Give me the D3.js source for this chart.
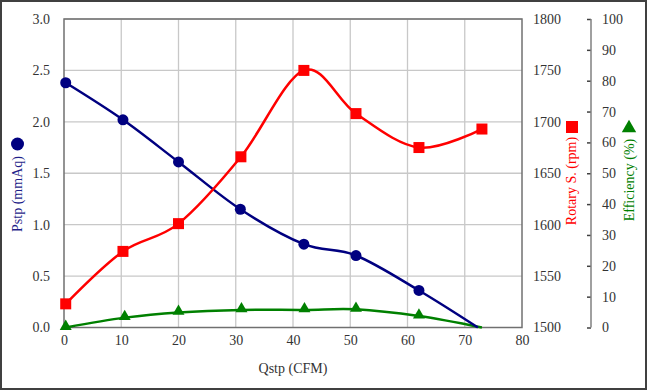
<!DOCTYPE html>
<html>
<head>
<meta charset="utf-8">
<script src="https://cdn.jsdelivr.net/npm/d3@7"></script>
<style>
    body { margin: 0; background: #fff; }
    svg text { font-family: "Times New Roman", "Liberation Serif", serif !important; }
</style>
</head>
<body>
<svg id="chart" width="647" height="390"></svg>
<script>
// flow (CFM) for each measured point
var pstpFlow = [0.3, 10.3, 20, 30.8, 41.9, 51, 62, 72.3];
var pstpValues = [2.38, 2.02, 1.61, 1.15, 0.81, 0.70, 0.36, 0];

var rpmFlow = [0.3, 10.3, 20, 30.9, 41.9, 51, 62, 73];
var rpmValues = [1523, 1574, 1601, 1666, 1750, 1708, 1675, 1693];

var effFlow = [0.3, 10.6, 20, 31, 42, 51, 62, 73];
var effValues = [0, 3.2, 4.9, 5.7, 5.7, 5.9, 3.7, 0];

var xTicks = [0, 10, 20, 30, 40, 50, 60, 70, 80];
var pstpTicks = [0, 0.5, 1.0, 1.5, 2.0, 2.5, 3.0];
var rpmTicks = [1500, 1550, 1600, 1650, 1700, 1750, 1800];
var effTicks = [0, 10, 20, 30, 40, 50, 60, 70, 80, 90, 100];

var svg = d3.select("#chart");
var plotL = 64, plotR = 522, plotT = 19, plotB = 327.5;
var effAxisX = 591;

var x = d3.scaleLinear().domain([0, 80]).range([plotL, plotR]);
var yP = d3.scaleLinear().domain([0, 3]).range([plotB, plotT]);
var yR = d3.scaleLinear().domain([1500, 1800]).range([plotB, plotT]);
var yE = d3.scaleLinear().domain([0, 100]).range([plotB, plotT]);

// outer frame
svg.append("rect")
    .attr("x", 1).attr("y", 1)
    .attr("width", 645).attr("height", 388)
    .attr("fill", "#fff")
    .attr("stroke", "#404040")
    .attr("stroke-width", 2);

// grid
svg.append("g").selectAll("line")
    .data(pstpTicks.slice(1))
    .enter().append("line")
    .attr("x1", plotL).attr("x2", plotR)
    .attr("y1", function(d){ return yP(d); })
    .attr("y2", function(d){ return yP(d); })
    .attr("stroke", "#c8c8c8").attr("stroke-width", 1.3);
svg.append("g").selectAll("line")
    .data(xTicks.slice(1, -1))
    .enter().append("line")
    .attr("y1", plotT).attr("y2", plotB)
    .attr("x1", function(d){ return x(d); })
    .attr("x2", function(d){ return x(d); })
    .attr("stroke", "#c8c8c8").attr("stroke-width", 1.3);

// plot border
svg.append("rect")
    .attr("x", plotL).attr("y", plotT)
    .attr("width", plotR - plotL).attr("height", plotB - plotT)
    .attr("fill", "none")
    .attr("stroke", "#707070").attr("stroke-width", 1.5);

// axes (labels only, no tick marks)
var xAxis = d3.axisBottom(x).tickValues(xTicks).tickSize(0).tickPadding(8);
svg.append("g").attr("transform", "translate(0," + plotB + ")").call(xAxis);

var yAxisL = d3.axisLeft(yP).tickValues(pstpTicks).tickSize(0).tickPadding(14)
    .tickFormat(d3.format(".1f"));
svg.append("g").attr("transform", "translate(" + plotL + ",0)").call(yAxisL);

var yAxisR = d3.axisRight(yR).tickValues(rpmTicks).tickSize(0).tickPadding(11)
    .tickFormat(d3.format("d"));
svg.append("g").attr("transform", "translate(" + plotR + ",0)").call(yAxisR);

var yAxisE = d3.axisRight(yE).tickValues(effTicks).tickSize(0).tickPadding(11);
var gE = svg.append("g").attr("transform", "translate(" + effAxisX + ",0)").call(yAxisE);
gE.selectAll(".tick").append("line")
    .attr("x1", -4).attr("x2", 0)
    .attr("stroke", "#404040").attr("stroke-width", 1.5);

svg.selectAll(".domain").remove();
gE.append("line")
    .attr("x1", 0).attr("x2", 0)
    .attr("y1", plotT).attr("y2", plotB)
    .attr("stroke", "#808080").attr("stroke-width", 1.5);

svg.selectAll("g").attr("font-family", null);
svg.selectAll(".tick text")
    .attr("font-size", 14)
    .attr("fill", "#333");

// lines (smoothed like the spreadsheet chart)
var curve = d3.curveCardinal.tension(0);

function series(flow, vals, ys) {
    return flow.map(function(f, i){ return [x(f), ys(vals[i])]; });
}

var pstpPts = series(pstpFlow, pstpValues, yP);
var rpmPts = series(rpmFlow, rpmValues, yR);
var effPts = series(effFlow, effValues, yE);

var line = d3.line().curve(curve);

svg.append("path").attr("d", line(effPts))
    .attr("fill", "none").attr("stroke", "#008000").attr("stroke-width", 2.5);
svg.append("path").attr("d", line(pstpPts))
    .attr("fill", "none").attr("stroke", "#000080").attr("stroke-width", 2.5);
svg.append("path").attr("d", line(rpmPts))
    .attr("fill", "none").attr("stroke", "#ff0000").attr("stroke-width", 2.5);

// markers (the last zero points of pstp / efficiency have none)
svg.append("g").selectAll("path")
    .data(effPts.slice(0, -1))
    .enter().append("path")
    .attr("d", d3.symbol().type(d3.symbolTriangle).size(62))
    .attr("transform", function(d){ return "translate(" + d[0] + "," + (d[1] - 1) + ")"; })
    .attr("fill", "#008000");

svg.append("g").selectAll("circle")
    .data(pstpPts.slice(0, -1))
    .enter().append("circle")
    .attr("cx", function(d){ return d[0]; })
    .attr("cy", function(d){ return d[1]; })
    .attr("r", 5.5)
    .attr("fill", "#000080");

svg.append("g").selectAll("rect")
    .data(rpmPts)
    .enter().append("rect")
    .attr("x", function(d){ return d[0] - 5.5; })
    .attr("y", function(d){ return d[1] - 5.5; })
    .attr("width", 11).attr("height", 11)
    .attr("fill", "#ff0000");

// axis titles
svg.append("text")
    .attr("x", x(40)).attr("y", 373)
    .attr("text-anchor", "middle")
    .attr("font-size", 14)
    .attr("fill", "#333")
    .text("Qstp (CFM)");

function vTitle(cx, cy, label, color) {
    svg.append("text")
        .attr("transform", "translate(" + cx + "," + cy + ") rotate(-90)")
        .attr("text-anchor", "middle")
        .attr("font-size", 14)
        .attr("fill", color)
        .text(label);
}

vTitle(22, 194, "Pstp (mmAq)", "#1f1f8a");
svg.append("circle").attr("cx", 17.5).attr("cy", 144).attr("r", 6.5).attr("fill", "#000080");

vTitle(576, 181, "Rotary S. (rpm)", "#ff0000");
svg.append("rect").attr("x", 566).attr("y", 121).attr("width", 12).attr("height", 12).attr("fill", "#ff0000");

vTitle(634, 180, "Efficiency (%)", "#008000");
svg.append("path")
    .attr("d", d3.symbol().type(d3.symbolTriangle).size(90))
    .attr("transform", "translate(629,128)")
    .attr("fill", "#008000");
</script>
</body>
</html>
